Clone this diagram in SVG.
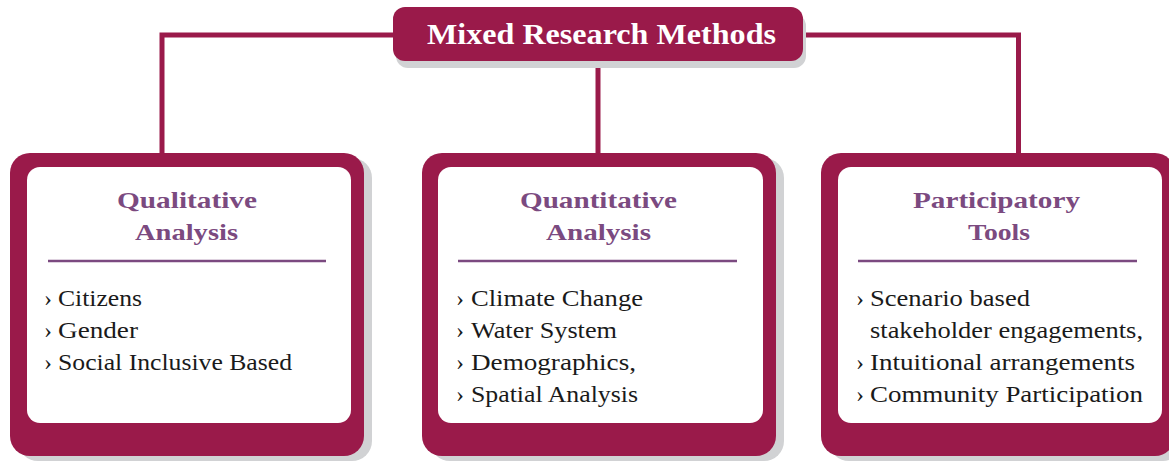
<svg xmlns="http://www.w3.org/2000/svg" width="1169" height="461" viewBox="0 0 1169 461">
  <style>
    .link { stroke: #9A1A4A; stroke-width: 5; fill: none; }
    .shadow { fill: #D1D2D4; }
    .frame { fill: #9A1A4A; }
    .panel { fill: #FFFFFF; }
    .rule { stroke: #7B4A80; stroke-width: 2.5; }
    .title { font-family: "Liberation Serif", "Times New Roman", serif; font-weight: bold; font-size: 29px; fill: #FFFFFF; }
    .head { font-family: "Liberation Serif", "Times New Roman", serif; font-weight: bold; font-size: 24px; fill: #7B4A80; }
    .item { font-family: "Liberation Serif", "Times New Roman", serif; font-size: 24px; fill: #1A1A1A; }
  </style>

  <!-- connectors from the root to the three branches -->
  <g id="connectors">
    <polyline class="link" points="162,153 162,35 1018.5,35 1018.5,153"/>
    <line class="link" x1="598" y1="55" x2="598" y2="153"/>
  </g>

  <!-- root -->
  <g id="root">
    <rect class="shadow" x="396" y="14" width="410" height="54" rx="12"/>
    <rect class="frame" x="393" y="7" width="410" height="54" rx="12"/>
    <text class="title" x="427" y="44" textLength="349" lengthAdjust="spacingAndGlyphs">Mixed Research Methods</text>
  </g>

  <!-- qualitative branch -->
  <g id="qualitative">
    <rect class="shadow" x="18" y="158" width="354" height="303" rx="20"/>
    <rect class="frame" x="10" y="153" width="354" height="303" rx="20"/>
    <rect class="panel" x="27" y="167" width="324" height="256" rx="13"/>
    <text class="head" x="117" y="208" textLength="140" lengthAdjust="spacingAndGlyphs">Qualitative</text>
    <text class="head" x="135" y="240" textLength="103" lengthAdjust="spacingAndGlyphs">Analysis</text>
    <line class="rule" x1="48" y1="261" x2="326" y2="261"/>
    <text class="item" x="44" y="306">›</text>
    <text class="item" x="58" y="306" textLength="84" lengthAdjust="spacingAndGlyphs">Citizens</text>
    <text class="item" x="44" y="338">›</text>
    <text class="item" x="58" y="338" textLength="80" lengthAdjust="spacingAndGlyphs">Gender</text>
    <text class="item" x="44" y="370">›</text>
    <text class="item" x="58" y="370" textLength="234" lengthAdjust="spacingAndGlyphs">Social Inclusive Based</text>
  </g>

  <!-- quantitative branch -->
  <g id="quantitative">
    <rect class="shadow" x="430" y="158" width="354" height="303" rx="20"/>
    <rect class="frame" x="422" y="153" width="354" height="303" rx="20"/>
    <rect class="panel" x="438" y="167" width="325" height="256" rx="13"/>
    <text class="head" x="520" y="208" textLength="157" lengthAdjust="spacingAndGlyphs">Quantitative</text>
    <text class="head" x="546" y="240" textLength="105" lengthAdjust="spacingAndGlyphs">Analysis</text>
    <line class="rule" x1="458" y1="261" x2="737" y2="261"/>
    <text class="item" x="456" y="306">›</text>
    <text class="item" x="471" y="306" textLength="172" lengthAdjust="spacingAndGlyphs">Climate Change</text>
    <text class="item" x="456" y="338">›</text>
    <text class="item" x="471" y="338" textLength="146" lengthAdjust="spacingAndGlyphs">Water System</text>
    <text class="item" x="456" y="370">›</text>
    <text class="item" x="471" y="370" textLength="165" lengthAdjust="spacingAndGlyphs">Demographics,</text>
    <text class="item" x="456" y="402">›</text>
    <text class="item" x="471" y="402" textLength="167" lengthAdjust="spacingAndGlyphs">Spatial Analysis</text>
  </g>

  <!-- participatory branch -->
  <g id="participatory">
    <rect class="shadow" x="829" y="158" width="354" height="303" rx="20"/>
    <rect class="frame" x="821" y="153" width="354" height="303" rx="20"/>
    <rect class="panel" x="838" y="167" width="324" height="256" rx="13"/>
    <text class="head" x="913" y="208" textLength="167" lengthAdjust="spacingAndGlyphs">Participatory</text>
    <text class="head" x="968" y="240" textLength="62" lengthAdjust="spacingAndGlyphs">Tools</text>
    <line class="rule" x1="858" y1="261" x2="1137" y2="261"/>
    <text class="item" x="856" y="306">›</text>
    <text class="item" x="870" y="306" textLength="160" lengthAdjust="spacingAndGlyphs">Scenario based</text>
    <text class="item" x="870" y="338" textLength="273" lengthAdjust="spacingAndGlyphs">stakeholder engagements,</text>
    <text class="item" x="856" y="370">›</text>
    <text class="item" x="870" y="370" textLength="265" lengthAdjust="spacingAndGlyphs">Intuitional arrangements</text>
    <text class="item" x="856" y="402">›</text>
    <text class="item" x="870" y="402" textLength="273" lengthAdjust="spacingAndGlyphs">Community Participation</text>
  </g>
</svg>
